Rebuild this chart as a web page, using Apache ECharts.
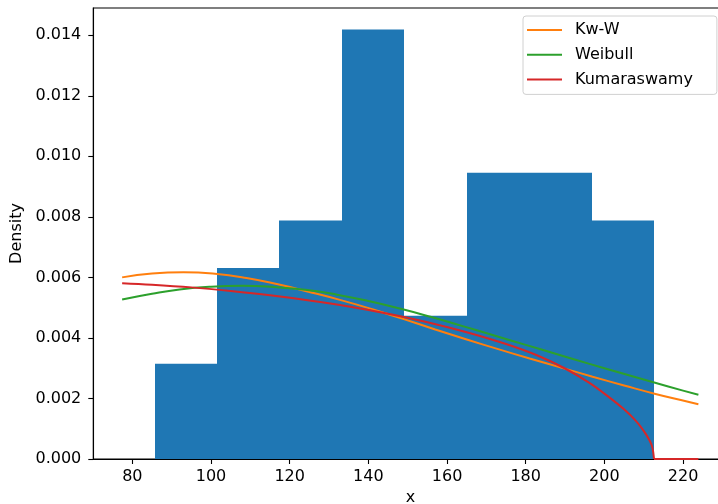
<!DOCTYPE html>
<html>
<head>
<meta charset="utf-8">
<script src="https://cdn.jsdelivr.net/npm/echarts@6/dist/echarts.min.js"></script>
<style>
  html, body { margin: 0; padding: 0; background: #fff; }
  #chart { width: 718px; height: 504px; }
</style>
</head>
<body>
<div id="chart"></div>
<script>
// Histogram: bin edges and density heights
const binEdges = [85.66, 101.53, 117.40, 133.27, 149.14, 165.01, 180.88, 196.75, 212.62];
const binDensity = [0.00315, 0.00631, 0.00788, 0.01419, 0.00473, 0.00946, 0.00946, 0.00788];

// Fitted density curves (x, density)
const kwwX = [77.4, 85, 93, 101, 109, 117, 125, 133, 141, 149, 157, 165, 173, 181, 189, 197, 205, 213, 221, 223.9];
const kwwY = [0.00600, 0.00613, 0.00617, 0.00612, 0.00598, 0.00577, 0.00552, 0.00525, 0.00495, 0.00462, 0.00428, 0.00395, 0.00363, 0.00332, 0.00302, 0.00272, 0.00243, 0.00215, 0.00190, 0.00181];

const weibullX = [77.4, 85, 92, 100, 108, 116, 124, 132, 140, 148, 156, 164, 172, 180, 188, 196, 204, 212, 220, 223.9];
const weibullY = [0.00527, 0.00546, 0.00560, 0.00569, 0.00572, 0.00568, 0.00559, 0.00543, 0.00522, 0.00497, 0.00469, 0.00439, 0.00408, 0.00377, 0.00346, 0.00315, 0.00285, 0.00255, 0.00226, 0.00212];

const kumaX = [77.4, 85, 95, 105, 115, 125, 135, 145, 155, 165, 175, 183, 190, 196, 201, 205, 208, 210, 211.5, 212.2, 212.62];
const kumaY = [0.00581, 0.00576, 0.00567, 0.00555, 0.00541, 0.00524, 0.00504, 0.00480, 0.00452, 0.00419, 0.00380, 0.00342, 0.00299, 0.00253, 0.00206, 0.00164, 0.00126, 0.00093, 0.00061, 0.00038, 0.0];
// Kumaraswamy density is zero beyond its upper bound
const kumaTailX = [212.62, 223.9];
const kumaTailY = [0.0, 0.0];

// Axis ticks
const xTicks = [80, 100, 120, 140, 160, 180, 200, 220];
const yTicks = [0, 0.002, 0.004, 0.006, 0.008, 0.010, 0.012, 0.014];

const pairs = (xs, ys) => xs.map((x, i) => [x, ys[i]]);
const histData = binDensity.map((d, i) => [binEdges[i], binEdges[i + 1], d]);

const FONT = 'DejaVu Sans';
const chart = echarts.init(document.getElementById('chart'), null, { renderer: 'canvas' });

const lineSeries = (name, data, color, z, smooth) => ({
  name, type: 'line', data,
  showSymbol: false, smooth,
  lineStyle: { color, width: 2 }, itemStyle: { color }, z
});

chart.setOption({
  animation: false,
  backgroundColor: '#fff',
  textStyle: { fontFamily: FONT },
  grid: {
    left: 93.3, top: 8, width: 634.2, height: 451,
    outerBoundsMode: 'none',
    show: true, borderColor: '#000', borderWidth: 1.1, backgroundColor: 'transparent'
  },
  legend: {
    orient: 'vertical',
    left: 523, top: 16,
    data: ['Kw-W', 'Weibull', 'Kumaraswamy'],
    icon: 'rect',
    itemWidth: 35, itemHeight: 2,
    itemGap: 6.7,
    padding: [5, 24, 6, 4],
    borderColor: '#d0d0d0', borderWidth: 1, borderRadius: 3,
    backgroundColor: 'rgba(255,255,255,0.8)',
    textStyle: { fontFamily: FONT, fontSize: 16, color: '#000', lineHeight: 18, padding: [0, 0, 0, 8] }
  },
  xAxis: {
    type: 'value', min: 70.07, max: 231.3,
    name: 'x', nameLocation: 'middle', nameGap: 30,
    nameTextStyle: { fontFamily: FONT, fontSize: 16, color: '#000' },
    axisLine: { show: true, onZero: false, lineStyle: { color: '#000', width: 1.1 } },
    axisTick: { show: true, customValues: xTicks, length: 5, lineStyle: { color: '#000', width: 1.1 } },
    axisLabel: { customValues: xTicks, margin: 10, fontFamily: FONT, fontSize: 16, color: '#000' },
    splitLine: { show: false }
  },
  yAxis: {
    type: 'value', min: 0, max: 0.0149,
    name: 'Density', nameLocation: 'middle', nameGap: 60,
    nameTextStyle: { fontFamily: FONT, fontSize: 16, color: '#000' },
    axisLine: { show: true, lineStyle: { color: '#000', width: 1.1 } },
    axisTick: { show: true, customValues: yTicks, length: 5, lineStyle: { color: '#000', width: 1.1 } },
    axisLabel: {
      customValues: yTicks, margin: 12, fontFamily: FONT, fontSize: 16, color: '#000',
      formatter: v => v.toFixed(3)
    },
    splitLine: { show: false }
  },
  series: [
    {
      name: 'hist', type: 'custom', data: histData,
      encode: { x: [0, 1], y: 2 },
      renderItem: (params, api) => {
        const top = api.coord([api.value(0), api.value(2)]);
        const bot = api.coord([api.value(1), 0]);
        const x0 = Math.round(top[0]), x1 = Math.round(bot[0]);
        return {
          type: 'rect',
          shape: { x: x0, y: top[1], width: x1 - x0, height: bot[1] - top[1] },
          style: { fill: '#1f77b4' }
        };
      },
      z: 1
    },
    lineSeries('Kw-W', pairs(kwwX, kwwY), '#ff7f0e', 3, 0.5),
    lineSeries('Weibull', pairs(weibullX, weibullY), '#2ca02c', 4, 0.5),
    lineSeries('Kumaraswamy', pairs(kumaX, kumaY), '#d62728', 5, 0.4),
    lineSeries('Kumaraswamy', pairs(kumaTailX, kumaTailY), '#d62728', 5, false)
  ]
});
</script>
</body>
</html>
